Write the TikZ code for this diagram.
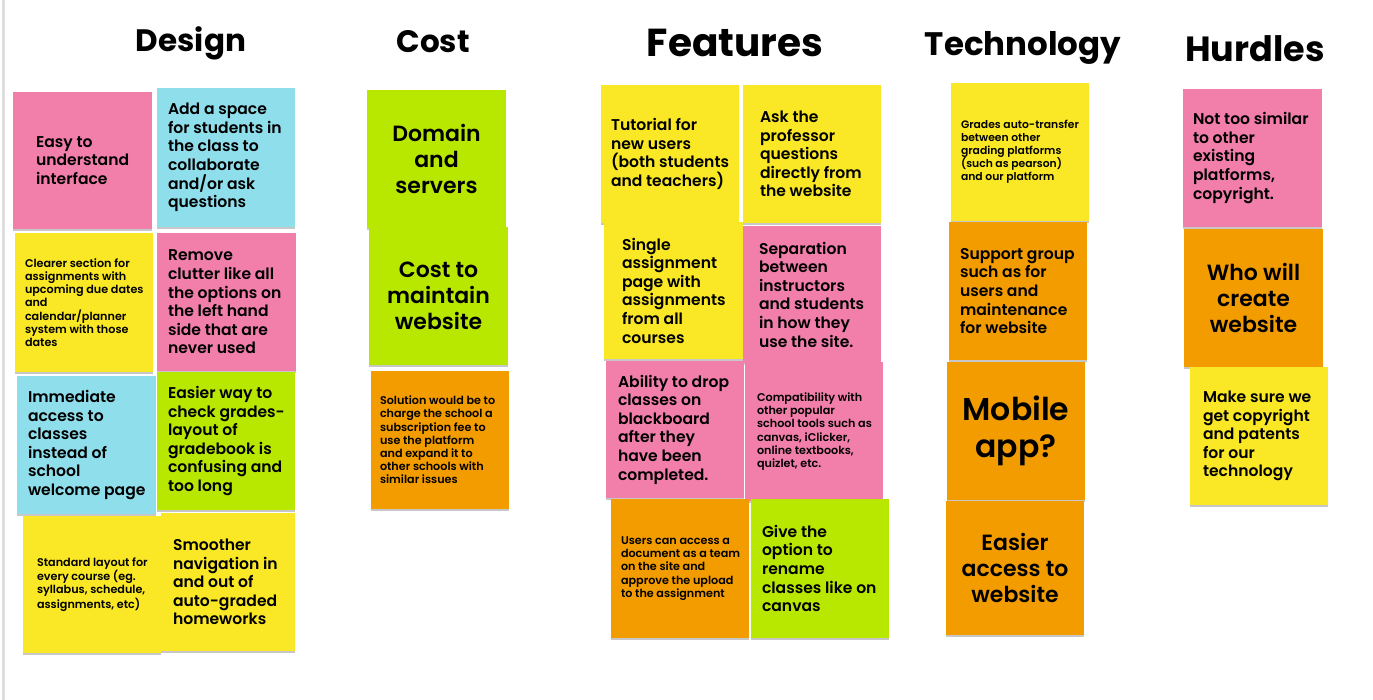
\documentclass[tikz,border=0pt]{standalone}
\usepackage{fontspec}
\setmainfont{Poppins}[BoldFont={Poppins SemiBold}]
\newfontfamily\headfont{Poppins}
\usetikzlibrary{shadows}

% sticky-note palette
\definecolor{npink}{HTML}{F17FA9}
\definecolor{nblue}{HTML}{8FDEEB}
\definecolor{nyellow}{HTML}{FAE826}
\definecolor{ngreen}{HTML}{B9E800}
\definecolor{norange}{HTML}{F39C00}
\definecolor{edgegray}{HTML}{DEDEDE}

% text sizes used on the notes
\newcommand{\notetiny}{\fontsize{10.8}{13.1}\selectfont\bfseries}
\newcommand{\notesmall}{\fontsize{11.2}{13.2}\selectfont\bfseries}
\newcommand{\notemid}{\fontsize{15.6}{18.6}\selectfont\bfseries}
\newcommand{\notebig}{\fontsize{22}{26}\selectfont\bfseries}
\newcommand{\notehuge}{\fontsize{31.5}{37}\selectfont\bfseries}

\tikzset{
  notebox/.style={rectangle, draw=none, inner sep=0pt,
    drop shadow={shadow xshift=0pt, shadow yshift=-1.6pt, opacity=0.22, fill=black}},
  notetext/.style={anchor=west, align=left, inner sep=0pt, text=black},
  notecentre/.style={anchor=center, align=center, inner sep=0pt, text=black},
  heading/.style={anchor=base, inner sep=0pt, text=black}
}

% #1 name, #2 colour, #3..#6 corners (x1,y1,x2,y2), #7 left padding, #8 font, #9 text
\newcommand{\stickynote}[9]{%
  \node[notebox, fill=#2, minimum width={(#5-#3)*1pt}, minimum height={(#6-#4)*1pt}]
    (#1) at ({(#3+#5)/2},{(#4+#6)/2}) {};
  \node[notetext, font=#8] (#1-txt) at ([xshift=#7pt]#1.west) {#9};
}
% same, with the text centred in the note
\newcommand{\stickycentre}[8]{%
  \node[notebox, fill=#2, minimum width={(#5-#3)*1pt}, minimum height={(#6-#4)*1pt}]
    (#1) at ({(#3+#5)/2},{(#4+#6)/2}) {};
  \node[notecentre, font=#7] (#1-txt) at (#1.center) {#8};
}

\begin{document}
\begin{tikzpicture}[x=1pt, y=-1pt]
\useasboundingbox (0,0) rectangle (1373,700);
\fill[white] (0,0) rectangle (1373,700);
\fill[edgegray] (2,0) rectangle (4.5,700);

% column headings
\node[heading, font=\headfont\bfseries\fontsize{31}{36}\selectfont] (hdesign) at (191,52) {Design};
\node[heading, font=\headfont\bfseries\fontsize{31}{36}\selectfont] (hcost) at (433,53) {Cost};
\node[heading, font=\headfont\bfseries\fontsize{39}{44}\selectfont] (hfeatures) at (735,57) {Features};
\node[heading, font=\headfont\bfseries\fontsize{32.5}{37}\selectfont] (htech) at (1023,56) {Technology};
\node[heading, font=\headfont\bfseries\fontsize{35}{40}\selectfont] (hhurdles) at (1255,62) {Hurdles};

% Design
\stickynote{d1}{npink}{13}{92}{152}{229}{23}{\notemid}{Easy to\\understand\\interface}
\stickynote{d2}{nblue}{157}{88}{295}{227}{11}{\notemid}{Add a space\\for students in\\the class to\\collaborate\\and/or ask\\questions}
\stickynote{d3}{nyellow}{15}{233}{153}{372}{10}{\notesmall}{Clearer section for\\assignments with\\upcoming due dates\\and\\calendar/planner\\system with those\\dates}
\stickynote{d4}{npink}{157}{233}{296}{371}{11}{\notemid}{Remove\\clutter like all\\the options on\\the left hand\\side that are\\never used}
\stickynote{d5}{nblue}{17}{376}{156}{514}{11}{\notemid}{Immediate\\access to\\classes\\instead of\\school\\welcome page}
\stickynote{d6}{ngreen}{157}{372}{295}{510}{11}{\notemid}{Easier way to\\check grades-\\layout of\\gradebook is\\confusing and\\too long}
\stickynote{d7}{nyellow}{23}{516}{161}{653}{14}{\notesmall}{Standard layout for\\every course (eg.\\syllabus, schedule,\\assignments, etc)}
\stickynote{d8}{nyellow}{161}{513}{295}{651}{12}{\notemid}{Smoother\\navigation in\\and out of\\auto-graded\\homeworks}

% Cost
\stickycentre{c1}{ngreen}{367}{90}{506}{228}{\notebig}{Domain\\and\\servers}
\stickycentre{c2}{ngreen}{369}{227}{508}{365}{\notebig}{Cost to\\maintain\\website}
\stickynote{c3}{norange}{371}{371}{509}{509}{9}{\notesmall}{Solution would be to\\charge the school a\\subscription fee to\\use the platform\\and expand it to\\other schools with\\similar issues}

% Features
\stickynote{f1}{nyellow}{601}{85}{739}{223}{10}{\notemid}{Tutorial for\\new users\\(both students\\and teachers)}
\stickynote{f2}{nyellow}{743}{85}{881}{223}{17}{\notemid}{Ask the\\professor\\questions\\directly from\\the website}
\stickynote{f3}{nyellow}{604}{222}{743}{359}{18}{\notemid}{Single\\assignment\\page with\\assignments\\from all\\courses}
\stickynote{f4}{npink}{743}{226}{881}{363}{16}{\notemid}{Separation\\between\\instructors\\and students\\in how they\\use the site.}
\stickynote{f5}{npink}{606}{361}{744}{498}{12}{\notemid}{Ability to drop\\classes on\\blackboard\\after they\\have been\\completed.}
\stickynote{f6}{npink}{745}{362}{883}{501}{12}{\notesmall}{Compatibility with\\other popular\\school tools such as\\canvas, iClicker,\\online textbooks,\\quizlet, etc.}
\stickynote{f7}{norange}{611}{499}{749}{638}{10}{\notesmall}{Users can access a\\document as a team\\on the site and\\approve the upload\\to the assignment}
\stickynote{f8}{ngreen}{751}{499}{889}{638}{11}{\notemid}{Give the\\option to\\rename\\classes like on\\canvas}

% Technology
\stickynote{t1}{nyellow}{951}{83}{1089}{221}{10}{\notetiny}{Grades auto-transfer\\between other\\grading platforms\\(such as pearson)\\and our platform}
\stickynote{t2}{norange}{949}{222}{1087}{360}{11}{\notemid}{Support group\\such as for\\users and\\maintenance\\for website}
\stickycentre{t3}{norange}{947}{362}{1085}{500}{\notehuge}{Mobile\\app?}
\stickycentre{t4}{norange}{946}{501}{1084}{635}{\notebig}{Easier\\access to\\website}

% Hurdles
\stickynote{h1}{npink}{1183}{89}{1322}{227}{10}{\notemid}{Not too similar\\to other\\existing\\platforms,\\copyright.}
\stickycentre{h2}{norange}{1184}{229}{1323}{367}{\notebig}{Who will\\create\\website}
\stickynote{h3}{nyellow}{1190}{367}{1328}{505}{13}{\notemid}{Make sure we\\get copyright\\and patents\\for our\\technology}
\end{tikzpicture}
\end{document}
